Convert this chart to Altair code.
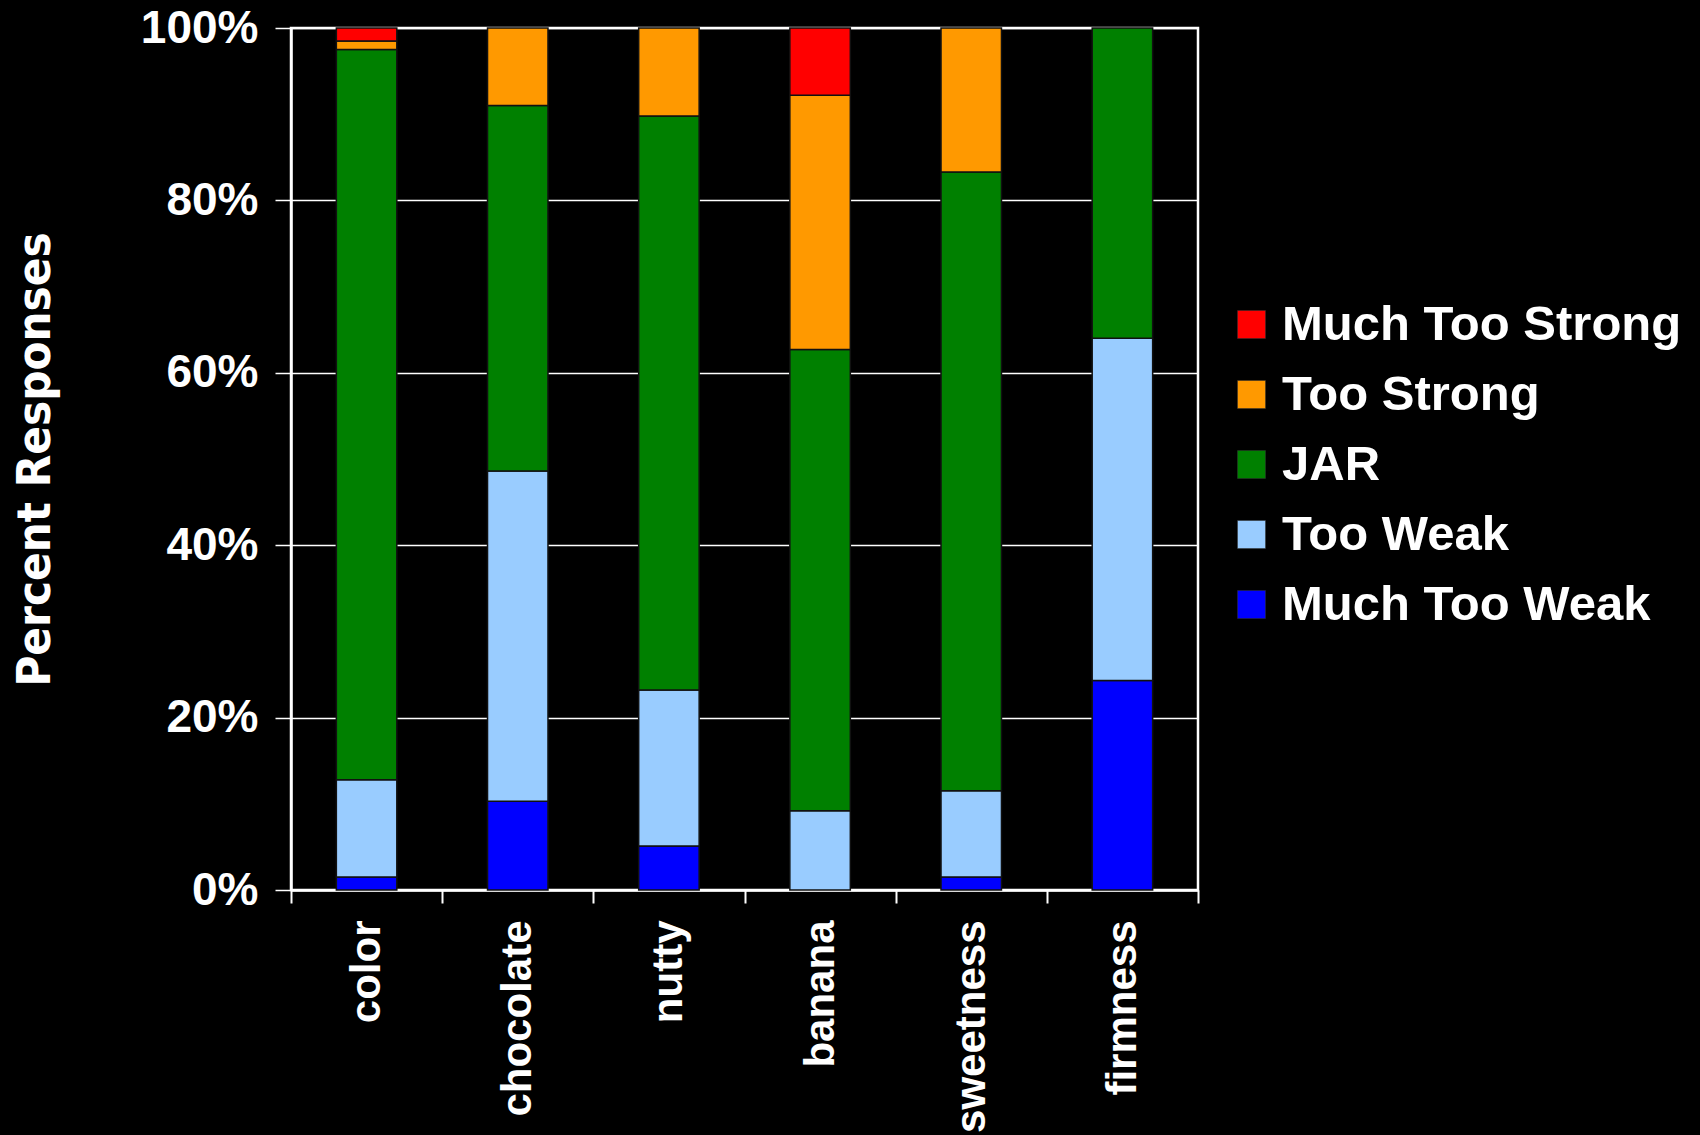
import altair as alt
import pandas as pd

categories = ["color", "chocolate", "nutty", "banana", "sweetness", "firmness"]
levels = ["Much Too Strong", "Too Strong", "JAR", "Too Weak", "Much Too Weak"]
level_colors = ["#FF0000", "#FF9900", "#008000", "#99CCFF", "#0000FF"]

much_too_weak = [1.5, 10.3, 5.1, 0.0, 1.5, 24.3]
too_weak = [11.3, 38.3, 18.1, 9.2, 10.0, 39.7]
jar = [84.7, 42.4, 66.6, 53.5, 71.8, 36.0]
too_strong = [1.0, 9.0, 10.2, 29.5, 16.7, 0.0]
much_too_strong = [1.5, 0.0, 0.0, 7.8, 0.0, 0.0]

series = {
    "Much Too Weak": much_too_weak,
    "Too Weak": too_weak,
    "JAR": jar,
    "Too Strong": too_strong,
    "Much Too Strong": much_too_strong,
}
stack_rank = {"Much Too Weak": 0, "Too Weak": 1, "JAR": 2, "Too Strong": 3, "Much Too Strong": 4}

rows = []
for lvl, vals in series.items():
    for cat, v in zip(categories, vals):
        if v > 0:
            rows.append({"attribute": cat, "level": lvl, "pct": v, "rank": stack_rank[lvl]})
df = pd.DataFrame(rows)

W, H = 907, 862
PAD_L, PAD_T = 291, 28

bars = alt.Chart(df).mark_bar(stroke="#111111", strokeWidth=1.5, width=alt.RelativeBandSize(0.4)).encode(
    x=alt.X("attribute:N", sort=categories,
            scale=alt.Scale(paddingInner=0, paddingOuter=0),
            axis=alt.Axis(title=None, labelAngle=270, labelFontSize=42, labelFontWeight="bold",
                          labelColor="white", labelFont="Liberation Sans", labelPadding=17,
                          labelLimit=400,
                          domainColor="white", domainWidth=2.5, tickColor="white", tickWidth=2,
                          tickSize=13, tickBand="extent", grid=False)),
    y=alt.Y("pct:Q", stack="normalize",
            scale=alt.Scale(domain=[0, 1], nice=False),
            axis=alt.Axis(title="Percent Responses", format=".0%", values=[0, 0.2, 0.4, 0.6, 0.8, 1.0],
                          labelFontSize=46, labelFontWeight="bold", labelColor="white",
                          labelFont="Liberation Sans", labelPadding=17,
                          domainColor="white", domainWidth=2.5, tickColor="white", tickWidth=1.5,
                          tickSize=16, grid=True, gridColor="white", gridWidth=1.5, gridOpacity=1,
                          titleColor="white", titleFont="DejaVu Sans Condensed, Liberation Sans Narrow, Liberation Sans",
                          titleFontWeight="bold", titleFontSize=47, titleAngle=270,
                          titleX=-242, titleY=H / 2, titleBaseline="alphabetic", titleAlign="center")),
    color=alt.Color("level:N", scale=alt.Scale(domain=levels, range=level_colors),
                    legend=alt.Legend(title=None, orient="none", legendX=936, legendY=272,
                                      symbolType="square", symbolSize=784, symbolStrokeWidth=0.5,
                                      symbolStrokeColor="#333333",
                                      labelFontSize=49, labelFontWeight="bold", labelColor="white",
                                      labelFont="Liberation Sans", labelOffset=6, rowPadding=20,
                                      labelLimit=600)),
    order=alt.Order("rank:Q", sort="ascending"),
)

chart = bars.properties(
    width=W, height=H,
    autosize=alt.AutoSizeParams(type="none"),
    padding={"left": PAD_L, "top": PAD_T, "right": 1700 - PAD_L - W, "bottom": 1135 - PAD_T - H},
).configure(background="black").configure_view(stroke="white", strokeWidth=2.5)

chart.save("out.html", embed_options={"renderer": "svg", "actions": False})
